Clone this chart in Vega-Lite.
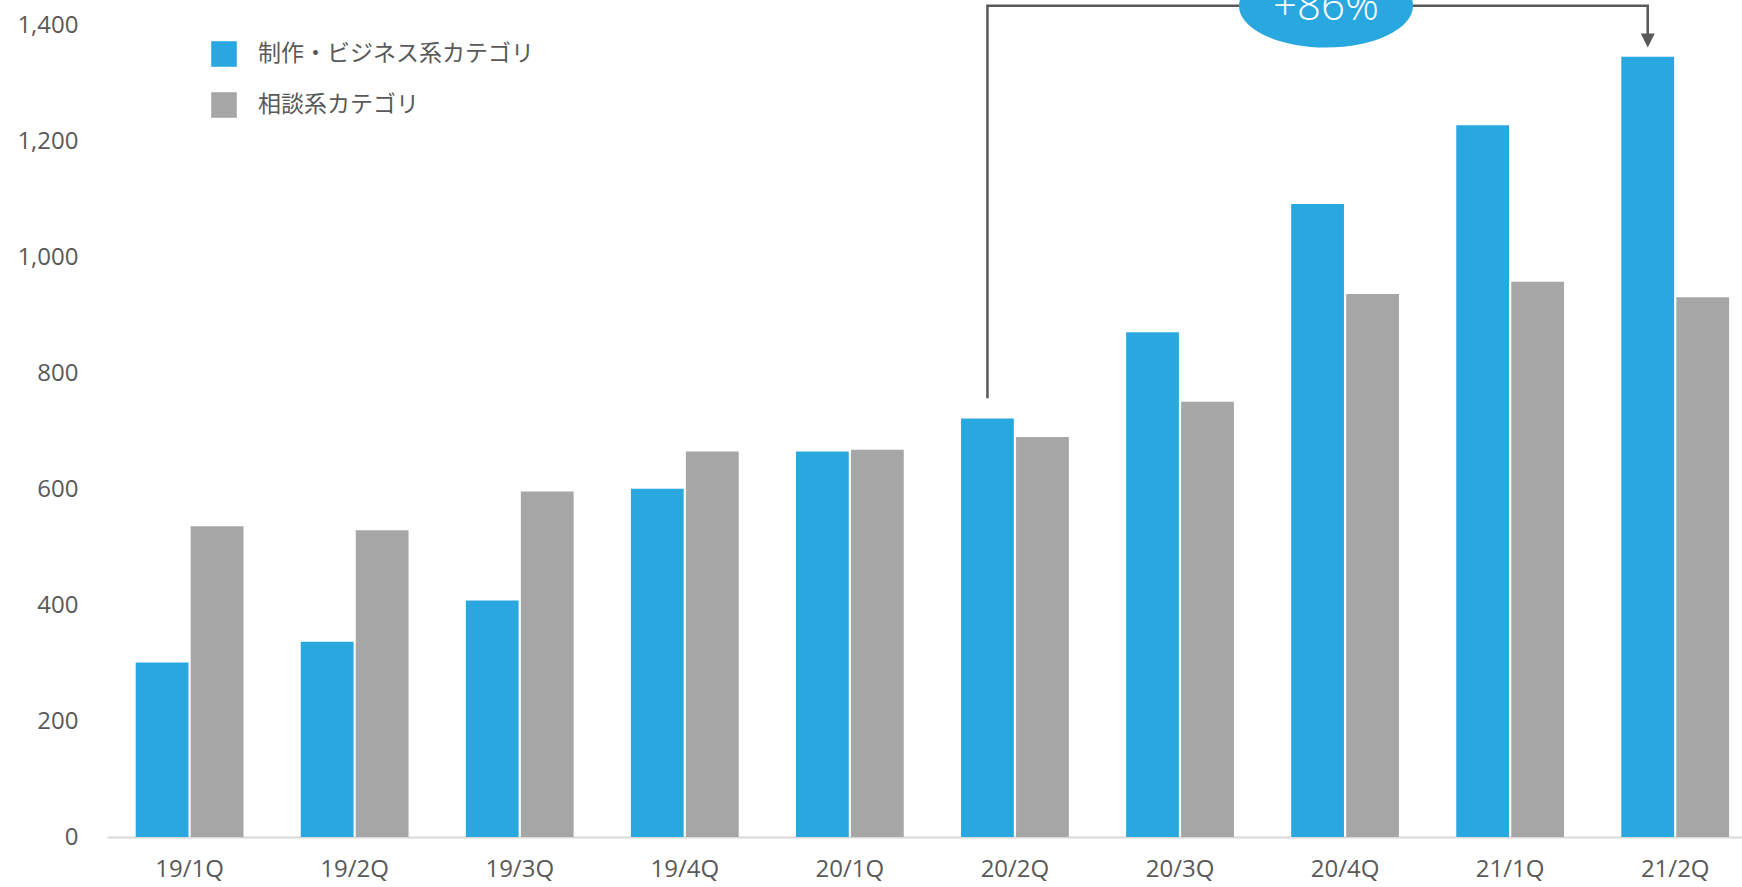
{
  "$schema": "https://vega.github.io/schema/vega-lite/v6.json",
  "width": 1635,
  "height": 837,
  "autosize": {"type": "none"},
  "padding": {"left": 107, "top": 0, "right": 0, "bottom": 50},
  "background": "white",
  "config": {
    "view": {"stroke": null},
    "font": "Open Sans",
    "axis": {"labelColor": "#595959", "labelFontSize": 24, "title": null, "grid": false, "ticks": false}
  },
  "datasets": {
    "bars": [
      {"q": "19/1Q", "cat": "制作・ビジネス系カテゴリ", "v": 301},
      {"q": "19/1Q", "cat": "相談系カテゴリ", "v": 536},
      {"q": "19/2Q", "cat": "制作・ビジネス系カテゴリ", "v": 337},
      {"q": "19/2Q", "cat": "相談系カテゴリ", "v": 529},
      {"q": "19/3Q", "cat": "制作・ビジネス系カテゴリ", "v": 408},
      {"q": "19/3Q", "cat": "相談系カテゴリ", "v": 596},
      {"q": "19/4Q", "cat": "制作・ビジネス系カテゴリ", "v": 601},
      {"q": "19/4Q", "cat": "相談系カテゴリ", "v": 665},
      {"q": "20/1Q", "cat": "制作・ビジネス系カテゴリ", "v": 665},
      {"q": "20/1Q", "cat": "相談系カテゴリ", "v": 668},
      {"q": "20/2Q", "cat": "制作・ビジネス系カテゴリ", "v": 722},
      {"q": "20/2Q", "cat": "相談系カテゴリ", "v": 690},
      {"q": "20/3Q", "cat": "制作・ビジネス系カテゴリ", "v": 871},
      {"q": "20/3Q", "cat": "相談系カテゴリ", "v": 751},
      {"q": "20/4Q", "cat": "制作・ビジネス系カテゴリ", "v": 1092},
      {"q": "20/4Q", "cat": "相談系カテゴリ", "v": 937},
      {"q": "21/1Q", "cat": "制作・ビジネス系カテゴリ", "v": 1228},
      {"q": "21/1Q", "cat": "相談系カテゴリ", "v": 958},
      {"q": "21/2Q", "cat": "制作・ビジネス系カテゴリ", "v": 1346},
      {"q": "21/2Q", "cat": "相談系カテゴリ", "v": 931}
    ],
    "bracket": [
      {"q": "20/2Q", "v": 757, "i": 1},
      {"q": "20/2Q", "v": 1434, "i": 2},
      {"q": "21/2Q", "v": 1434, "i": 3},
      {"q": "21/2Q", "v": 1382, "i": 4}
    ],
    "arrow": [{"q": "21/2Q", "v": 1374}],
    "badge": [{"q": "20/4Q", "v": 1434, "t": "+86%", "tv": 1409}]
  },
  "layer": [
    {
      "data": {"name": "bars"},
      "mark": {"type": "bar"},
      "encoding": {
        "x": {
          "field": "q", "type": "nominal", "sort": null,
          "scale": {"type": "band", "paddingInner": 0.347, "paddingOuter": 0.126, "align": 0.69},
          "axis": {"labelAngle": 0, "domainColor": "#d9d9d9", "domainWidth": 2, "labelPadding": 20}
        },
        "xOffset": {
          "field": "cat", "type": "nominal", "sort": ["制作・ビジネス系カテゴリ", "相談系カテゴリ"],
          "scale": {"paddingInner": 0.04, "paddingOuter": 0}
        },
        "y": {
          "field": "v", "type": "quantitative",
          "scale": {"domain": [0, 1444], "nice": false, "zero": true},
          "axis": {"domain": false, "values": [0, 200, 400, 600, 800, 1000, 1200, 1400], "format": ",d", "labelPadding": 29}
        },
        "color": {
          "field": "cat", "type": "nominal",
          "scale": {"domain": ["制作・ビジネス系カテゴリ", "相談系カテゴリ"], "range": ["#29A8E0", "#A6A6A6"]},
          "legend": {
            "title": null, "orient": "none", "legendX": 104, "legendY": 41,
            "symbolType": "square", "symbolSize": 655, "symbolStrokeWidth": 0, "symbolOpacity": 1,
            "labelFont": "Noto Sans CJK JP", "labelFontSize": 23, "labelColor": "#595959",
            "labelOffset": 21, "rowPadding": 25, "labelLimit": 600
          }
        }
      }
    },
    {
      "data": {"name": "bracket"},
      "mark": {"type": "line", "color": "#595959", "strokeWidth": 2.5, "strokeJoin": "miter"},
      "encoding": {
        "x": {"field": "q", "type": "nominal", "sort": null, "bandPosition": 0.245},
        "y": {"field": "v", "type": "quantitative"},
        "order": {"field": "i", "type": "quantitative"}
      }
    },
    {
      "data": {"name": "arrow"},
      "mark": {"type": "point", "shape": "M-1,-1L1,-1L0,1Z", "size": 196, "filled": true, "color": "#595959", "opacity": 1},
      "encoding": {
        "x": {"field": "q", "type": "nominal", "sort": null, "bandPosition": 0.245},
        "y": {"field": "v", "type": "quantitative"}
      }
    },
    {
      "data": {"name": "badge"},
      "mark": {"type": "point", "shape": "M-1,0A1,0.48,0,1,0,1,0A1,0.48,0,1,0,-1,0Z", "size": 30276, "filled": true, "color": "#29A8E0", "opacity": 1},
      "encoding": {
        "x": {"field": "q", "type": "nominal", "sort": null, "bandPosition": 0.323},
        "y": {"field": "v", "type": "quantitative"}
      }
    },
    {
      "data": {"name": "badge"},
      "mark": {"type": "text", "color": "white", "fontSize": 42, "fontWeight": 300, "font": "Open Sans", "baseline": "alphabetic", "align": "center"},
      "encoding": {
        "x": {"field": "q", "type": "nominal", "sort": null, "bandPosition": 0.323},
        "y": {"field": "tv", "type": "quantitative"},
        "text": {"field": "t"}
      }
    }
  ]
}
